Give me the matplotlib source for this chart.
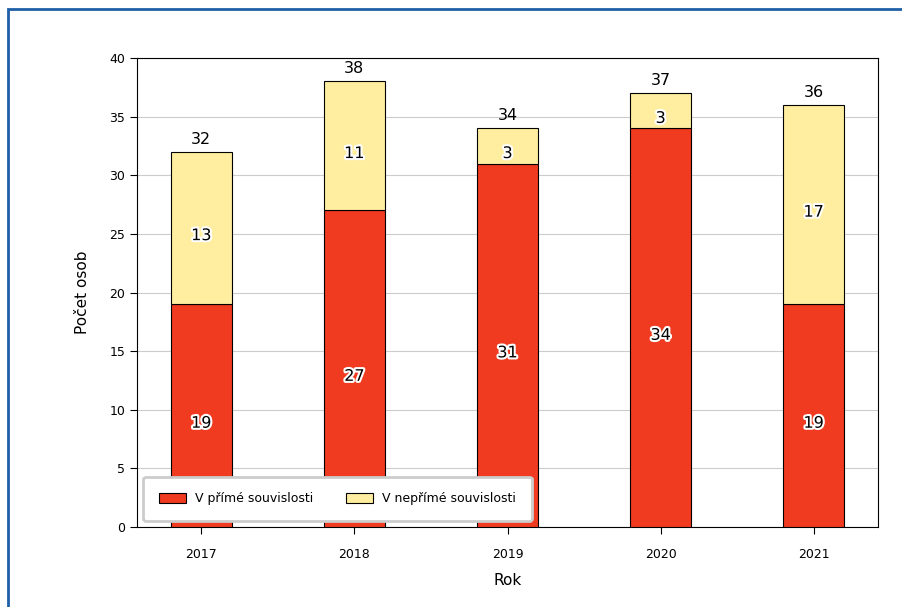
import numpy as np
import matplotlib.pyplot as plt
import matplotlib.patheffects as pe
from matplotlib.patches import Rectangle

# data
years = ['2017', '2018', '2019', '2020', '2021']
prime = [19, 27, 31, 34, 19]      # V přímé souvislosti
neprime = [13, 11, 3, 3, 17]      # V nepřímé souvislosti

RED = '#F03B20'
YELLOW = '#FFEDA0'

fig = plt.figure(figsize=(9.02, 6.07), dpi=100)
ax = fig.add_axes([137 / 902, 1 - 527 / 607, (878 - 137) / 902, (527 - 58) / 607])

# blue frame around the figure
fig.patches.append(Rectangle((8 / 902, -0.1), 1.2, 1 - 9 / 607 + 0.1, transform=fig.transFigure,
                             fill=False, edgecolor='#1F5FA8', linewidth=2))

x = np.arange(len(years))
totals = [a + b for a, b in zip(prime, neprime)]

ax.bar(x, prime, width=0.4, color=RED, edgecolor='black', linewidth=0.8,
       label='V přímé souvislosti', zorder=3)
ax.bar(x, neprime, width=0.4, bottom=prime, color=YELLOW, edgecolor='black', linewidth=0.8,
       label='V nepřímé souvislosti', zorder=3)

outline = [pe.withStroke(linewidth=3, foreground='white')]
for i in range(len(years)):
    ax.text(x[i], prime[i] / 2 - 0.65, str(prime[i]), ha='center', va='center', fontsize=11.5,
            path_effects=outline, zorder=5)
    ax.text(x[i], prime[i] + neprime[i] / 2 - 0.65, str(neprime[i]), ha='center', va='center',
            fontsize=11.5, path_effects=outline, zorder=5)
    ax.text(x[i], totals[i] + 0.45, str(totals[i]), ha='center', va='bottom', fontsize=11.5, zorder=5)

ax.set_ylim(0, 40)
ax.set_yticks(range(0, 41, 5))
ax.set_xticks(x)
ax.set_xticklabels(years)
ax.tick_params(labelsize=9, length=5)
ax.tick_params(axis='x', pad=10)
ax.yaxis.grid(True, color='#CCCCCC', linewidth=0.8, zorder=0)
ax.set_axisbelow(True)

ax.set_xlabel('Rok', fontsize=11, labelpad=9)
ax.set_ylabel('Počet osob', fontsize=11, labelpad=14)

leg = ax.legend(loc='lower left', ncol=2, fontsize=9, fancybox=True, framealpha=1,
                handlelength=2.2, handleheight=0.8, handletextpad=0.7, columnspacing=2.6,
                borderpad=1.25, bbox_to_anchor=(0.0, 0.0))
leg.get_frame().set_edgecolor('#CCCCCC')
leg.get_frame().set_linewidth(2)
leg.set_zorder(10)

fig.savefig('out.png', dpi=100)
